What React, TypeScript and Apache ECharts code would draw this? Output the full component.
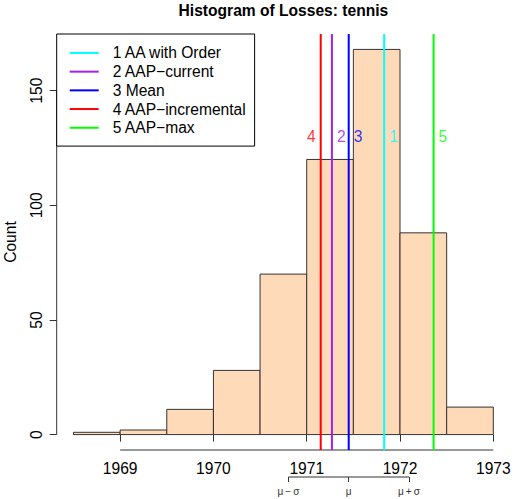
import React, { useEffect, useRef } from "react";
import * as echarts from "echarts";

const binEdges = [1968.5, 1969, 1969.5, 1970, 1970.5, 1971, 1971.5, 1972, 1972.5, 1973];
const binCounts = [1, 2, 11, 28, 70, 120, 168, 88, 12];
const lineNames = ["1 AA with Order", "2 AAP\u2212current", "3 Mean", "4 AAP\u2212incremental", "5 AAP\u2212max"];
const lineTags = ["1", "2", "3", "4", "5"];
const lineValues = [1971.83, 1971.27, 1971.45, 1971.15, 1972.36];
const lineColors = ["#00FFFF", "#A020F0", "#0000FF", "#FF0000", "#00FF00"];
const tagSides = ["right", "right", "right", "left", "right"];
const xTicks = [1969, 1970, 1971, 1972, 1973];
const yTicks = [0, 50, 100, 150];
const mu = 1971.45;
const sigma = 0.646;
const tagY = 130;

const X_MIN = 1968.32;
const X_MAX = 1973.18;
const Y_MIN = -6.72;
const Y_MAX = 174.72;
const FONT = "Liberation Sans, Arial, sans-serif";
const FS = 15.6;

export default function App() {
  const ref = useRef<HTMLDivElement>(null);
  useEffect(() => {
    document.body.style.margin = "0";
    const chart = echarts.init(ref.current!, null, { renderer: "svg" });
    const gridLeft = 56.7;
    const gridWidth = 453.4;
    const histData = binCounts.map((c, i) => [binEdges[i], binEdges[i + 1], c]);
    const lineSeries = lineNames.map((name, i) => ({
      type: "line",
      name,
      xAxisIndex: 0,
      yAxisIndex: 0,
      data: [[lineValues[i], Y_MIN], [lineValues[i], Y_MAX]],
      symbol: "none",
      silent: true,
      clip: false,
      lineStyle: { color: lineColors[i], width: 2 },
      itemStyle: { color: lineColors[i] },
      z: 5,
    }));
    const option: any = {
      animation: false,
      textStyle: { fontFamily: FONT },
      graphic: [
        {
          type: "text",
          x: gridLeft + gridWidth / 2,
          y: 10,
          style: {
            text: "Histogram of Losses: tennis",
            textAlign: "center",
            textVerticalAlign: "middle",
            font: "bold " + FS + "px " + FONT,
            fill: "#000",
          },
        },
      ],
      legend: {
        orient: "vertical",
        left: gridLeft,
        top: 34,
        padding: [9.6, 8, 9, 13],
        itemWidth: 29,
        itemHeight: 2,
        itemGap: 0,
        icon: "rect",
        selectedMode: false,
        borderColor: "#000",
        borderWidth: 1,
        backgroundColor: "#fff",
        data: lineNames,
        textStyle: { fontSize: FS, color: "#000", lineHeight: 18.7, padding: [0, 0, 0, 9], fontFamily: FONT },
        z: 10,
      },
      grid: [
        { left: gridLeft, top: 34, width: gridWidth, height: 416, outerBoundsMode: "none", containLabel: false },
        { left: gridLeft, top: 476, width: gridWidth, height: 1, outerBoundsMode: "none", containLabel: false },
      ],
      xAxis: [
        {
          type: "value",
          gridIndex: 0,
          min: X_MIN,
          max: X_MAX,
          splitLine: { show: false },
          axisLine: { show: false },
          axisTick: { show: true, customValues: xTicks, length: 7, lineStyle: { color: "#333" } },
          axisLabel: {
            customValues: xTicks,
            fontSize: FS,
            color: "#000",
            margin: 10,
            fontFamily: FONT,
            formatter: (v: number) => String(Math.round(v)),
          },
        },
        {
          type: "value",
          gridIndex: 1,
          min: X_MIN,
          max: X_MAX,
          splitLine: { show: false },
          axisLine: { show: false },
          axisTick: { show: true, customValues: [mu - sigma, mu, mu + sigma], length: 5, lineStyle: { color: "#333" } },
          axisLabel: {
            customValues: [mu - sigma, mu, mu + sigma],
            fontSize: 10,
            color: "#333",
            margin: 9,
            fontFamily: FONT,
            formatter: (v: number) => (Math.abs(v - mu) < 1e-6 ? "\u03bc" : v < mu ? "\u03bc\u2009\u2212\u2009\u03c3" : "\u03bc\u2009+\u2009\u03c3"),
          },
        },
      ],
      yAxis: [
        {
          type: "value",
          gridIndex: 0,
          min: Y_MIN,
          max: Y_MAX,
          splitLine: { show: false },
          axisLine: { show: false },
          axisTick: { show: true, customValues: yTicks, length: 7, lineStyle: { color: "#333" } },
          axisLabel: {
            customValues: yTicks,
            fontSize: FS,
            color: "#000",
            rotate: 90,
            margin: 12,
            fontFamily: FONT,
            formatter: (v: number) => String(Math.round(v)),
          },
          name: "Count",
          nameLocation: "middle",
          nameGap: 38,
          nameMoveOverlap: false,
          nameTextStyle: { fontSize: FS, color: "#000", fontFamily: FONT },
        },
        {
          type: "value",
          gridIndex: 1,
          min: 0,
          max: 1,
          show: false,
        },
      ],
      series: [
        {
          type: "custom",
          xAxisIndex: 0,
          yAxisIndex: 0,
          data: histData,
          encode: { x: [0, 1], y: 2 },
          silent: true,
          renderItem: (params: any, api: any) => {
            const p0 = api.coord([api.value(0), api.value(2)]);
            const p1 = api.coord([api.value(1), 0]);
            return {
              type: "rect",
              shape: { x: p0[0], y: p0[1], width: p1[0] - p0[0], height: p1[1] - p0[1] },
              style: { fill: "#FFDAB9", stroke: "#333", lineWidth: 1 },
            };
          },
          z: 2,
        },
        ...lineSeries,
        {
          type: "line",
          xAxisIndex: 0,
          yAxisIndex: 0,
          data: [[xTicks[0], Y_MIN], [xTicks[xTicks.length - 1], Y_MIN]],
          symbol: "none",
          silent: true,
          clip: false,
          lineStyle: { color: "#333", width: 1 },
          z: 3,
        },
        {
          type: "line",
          xAxisIndex: 0,
          yAxisIndex: 0,
          data: [[X_MIN, yTicks[0]], [X_MIN, yTicks[yTicks.length - 1]]],
          symbol: "none",
          silent: true,
          clip: false,
          lineStyle: { color: "#333", width: 1 },
          z: 3,
        },
        {
          type: "scatter",
          xAxisIndex: 0,
          yAxisIndex: 0,
          symbolSize: 0,
          silent: true,
          z: 6,
          data: lineValues.map((v, i) => ({
            value: [v, tagY],
            label: {
              show: true,
              formatter: lineTags[i],
              position: tagSides[i],
              distance: 5,
              color: lineColors[i],
              fontSize: FS,
              fontFamily: FONT,
            },
          })),
        },
        {
          type: "line",
          xAxisIndex: 1,
          yAxisIndex: 1,
          data: [[mu - sigma, 0], [mu + sigma, 0]],
          symbol: "none",
          silent: true,
          clip: false,
          lineStyle: { color: "#333", width: 1 },
        },
      ],
    };
    chart.setOption(option);
    return () => chart.dispose();
  }, []);
  return <div ref={ref} style={{ width: 518, height: 499 }} />;
}
